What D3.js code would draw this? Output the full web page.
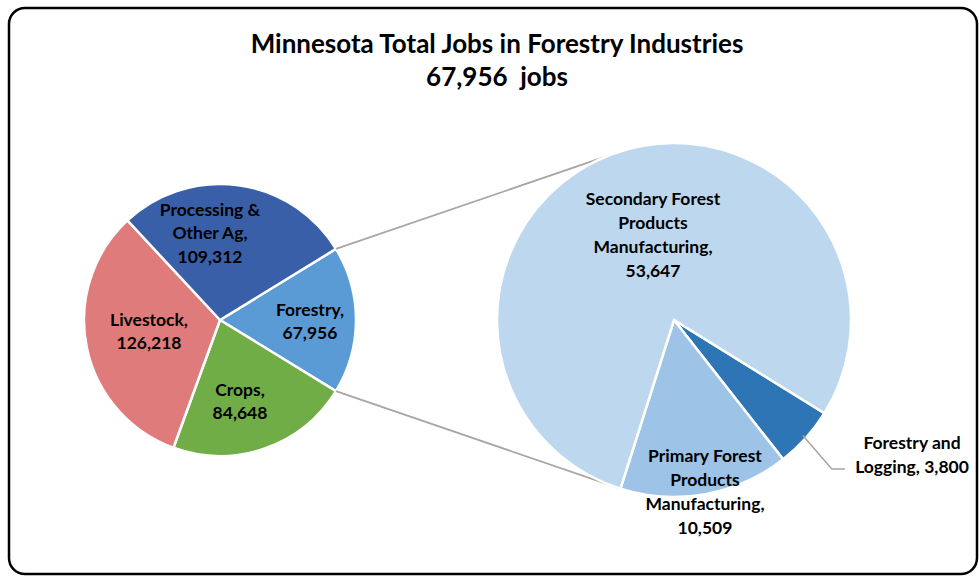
<!DOCTYPE html>
<html><head><meta charset="utf-8">
<script src="https://cdn.jsdelivr.net/npm/d3@7"></script>
<style>body{margin:0;background:#fff}svg{display:block}text{font-family:Lato,"Open Sans",sans-serif;font-weight:bold;fill:#000;white-space:pre}</style>
</head><body><svg id="c" width="979" height="576"></svg>
<script>
const titleLines = ["Minnesota Total Jobs in Forestry Industries", "67,956  jobs"];
const mainCategories = ["Forestry", "Crops", "Livestock", "Processing & Other Ag"];
const mainValues = [67956, 84648, 126218, 109312];
const mainLabels = [["Forestry,", "67,956"], ["Crops,", "84,648"], ["Livestock,", "126,218"], ["Processing &", "Other Ag,", "109,312"]];
const mainColors = ["#5B9BD5", "#70AD47", "#E07B7B", "#3A5FA9"];
const subCategories = ["Forestry and Logging", "Primary Forest Products Manufacturing", "Secondary Forest Products Manufacturing"];
const subValues = [3800, 10509, 53647];
const subLabels = [["Forestry and", "Logging, 3,800"], ["Primary Forest", "Products", "Manufacturing,", "10,509"], ["Secondary Forest", "Products", "Manufacturing,", "53,647"]];
const subColors = ["#2E75B6", "#9DC3E6", "#BDD7EE"];

const svg = d3.select("#c");
const deg = Math.PI / 180;
const FS = 17.5;

svg.append("rect").attr("x", 9).attr("y", 8).attr("width", 968).attr("height", 566)
  .attr("rx", 16).attr("fill", "#fff").attr("stroke", "#000").attr("stroke-width", 2.5);

svg.selectAll("text.title").data(titleLines).join("text").attr("class", "title")
  .attr("x", 497).attr("y", (d, i) => 53 + i * 33).attr("text-anchor", "middle")
  .attr("font-size", 26).attr("fill", "#262626").text(d => d);

// main pie
const mainTotal = d3.sum(mainValues);
const fSpan = mainValues[0] / mainTotal * 2 * Math.PI;
const mc = {x: 220, y: 320}, mr = 136;
const mainPie = d3.pie().sort(null).startAngle(Math.PI / 2 - fSpan / 2).endAngle(Math.PI / 2 - fSpan / 2 + 2 * Math.PI);
const mainArcs = mainPie(mainValues);
const mainArc = d3.arc().innerRadius(0).outerRadius(mr);
const gm = svg.append("g").attr("transform", `translate(${mc.x},${mc.y})`);
gm.selectAll("path").data(mainArcs).join("path").attr("d", mainArc)
  .attr("fill", (d, i) => mainColors[i]).attr("stroke", "#fff").attr("stroke-width", 2.5);

// label centres relative to pie centre
const mainLabelPos = [[90, 1.5], [20, 81.5], [-71, 11.5], [-10, -87]];
mainArcs.forEach((a, i) => {
  const [cx, cy] = mainLabelPos[i];
  const lines = mainLabels[i];
  const t = gm.append("text").attr("text-anchor", "middle").attr("font-size", FS);
  lines.forEach((l, j) => t.append("tspan").attr("x", cx).attr("y", cy + (j - (lines.length - 1) / 2) * 23.5 + 6).text(l));
});

// sub pie
const sc = {x: 674, y: 320}, sr = 177;
const subStart = 121.8 * deg;
const subPie = d3.pie().sort(null).startAngle(subStart).endAngle(subStart + 2 * Math.PI);
const subArcs = subPie(subValues);
const subArc = d3.arc().innerRadius(0).outerRadius(sr);
const gs = svg.append("g").attr("transform", `translate(${sc.x},${sc.y})`);

// connector lines
const pt = (c, r, a) => [c.x + Math.sin(a) * r, c.y - Math.cos(a) * r];
const conn = [
  [pt(mc, mr, mainArcs[0].startAngle), pt(sc, sr, 338 * deg)],
  [pt(mc, mr, mainArcs[0].endAngle), pt(sc, sr, subArcs[1].endAngle)]
];
svg.selectAll("line.conn").data(conn).join("line").attr("class", "conn")
  .attr("x1", d => d[0][0]).attr("y1", d => d[0][1]).attr("x2", d => d[1][0]).attr("y2", d => d[1][1])
  .attr("stroke", "#A6A6A6").attr("stroke-width", 1.8);
svg.node().appendChild(gs.node());

gs.selectAll("path").data(subArcs).join("path").attr("d", subArc)
  .attr("fill", (d, i) => subColors[i]).attr("stroke", "#fff").attr("stroke-width", 2.5);

// sub labels
const subLabelPos = [null, [705 - sc.x, 492 - sc.y], [653 - sc.x, 235 - sc.y]];
[1, 2].forEach(i => {
  const lines = subLabels[i];
  const [cx, cy] = subLabelPos[i];
  const t = gs.append("text").attr("text-anchor", "middle").attr("font-size", FS);
  lines.forEach((l, j) => t.append("tspan").attr("x", cx).attr("y", cy + (j - (lines.length - 1) / 2) * 24 + 6).text(l));
});
// leader for Forestry and Logging
const la = (subArcs[0].startAngle + subArcs[0].endAngle) / 2;
const p0 = pt(sc, sr - 4, la);
svg.append("polyline").attr("points", [p0, [p0[0] + 29, 469], [845, 469]].map(p => p.join(",")).join(" "))
  .attr("fill", "none").attr("stroke", "#A6A6A6").attr("stroke-width", 1.5);
const tl = svg.append("text").attr("text-anchor", "middle").attr("font-size", FS);
subLabels[0].forEach((l, j) => tl.append("tspan").attr("x", 912).attr("y", 449 + j * 24).text(l));
</script></body></html>
